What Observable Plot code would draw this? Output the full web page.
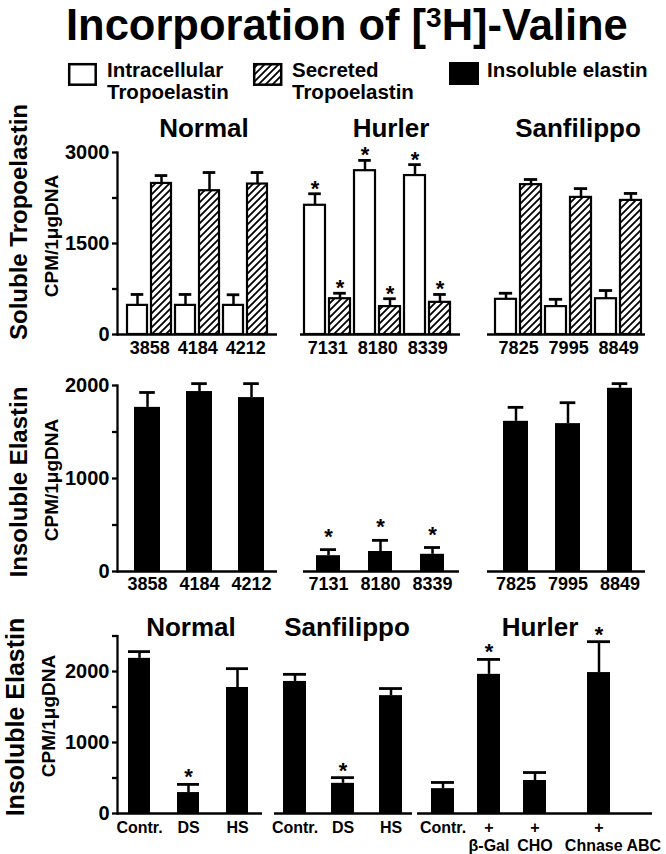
<!DOCTYPE html>
<html><head><meta charset="utf-8">
<script src="https://cdn.jsdelivr.net/npm/d3@7"></script>
<script src="https://cdn.jsdelivr.net/npm/@observablehq/plot@0.6"></script>
<style>
html,body{margin:0;padding:0;background:#fff;overflow:hidden}
#chart{position:relative;width:666px;height:854px;overflow:hidden;font-family:"Liberation Sans",Arial,Helvetica,sans-serif;}
#chart svg{position:absolute;left:0;}
</style></head><body><div id="chart"></div>
<script>
// ---------- DATA (CPM / 1 µg DNA) ----------
const samplesNormal = ["3858", "4184", "4212"];
const samplesHurler = ["7131", "8180", "8339"];
const samplesSanfilippo = ["7825", "7995", "8849"];

// Soluble tropoelastin: intracellular (open) and secreted (hatched), mean and mean+SE
const intraNormal = [480, 480, 480];
const intraNormalErr = [660, 660, 655];
const secNormal = [2490, 2370, 2480];
const secNormalErr = [2620, 2670, 2670];
const intraHurler = [2130, 2700, 2620];
const intraHurlerErr = [2320, 2870, 2800];
const secHurler = [590, 460, 530];
const secHurlerErr = [680, 590, 660];
const intraSanfilippo = [580, 460, 590];
const intraSanfilippoErr = [680, 580, 725];
const secSanfilippo = [2470, 2260, 2210];
const secSanfilippoErr = [2555, 2405, 2325];
const starSolubleNormal = [false, false, false];
const starSolubleHurler = [true, true, true];
const starSolubleSanfilippo = [false, false, false];

// Insoluble elastin by cell line
const insolNormal = [1765, 1935, 1870];
const insolNormalErr = [1925, 2020, 2020];
const insolHurler = [170, 215, 185];
const insolHurlerErr = [235, 335, 258];
const insolSanfilippo = [1615, 1590, 1970];
const insolSanfilippoErr = [1765, 1815, 2020];
const starInsolNormal = [false, false, false];
const starInsolHurler = [true, true, true];
const starInsolSanfilippo = [false, false, false];

// Insoluble elastin with treatments
const treatNormal = ["Contr.", "DS", "HS"];
const treatNormalVal = [2185, 295, 1775];
const treatNormalErr = [2280, 410, 2040];
const starTreatNormal = [false, true, false];
const treatSanfilippo = ["Contr.", "DS", "HS"];
const treatSanfilippoVal = [1860, 425, 1660];
const treatSanfilippoErr = [1960, 505, 1760];
const starTreatSanfilippo = [false, true, false];
const treatHurlerA = ["Contr.", "+\nβ-Gal", "+\nCHO"];
const treatHurlerAVal = [350, 1960, 465];
const treatHurlerAErr = [437, 2170, 577];
const starTreatHurlerA = [false, true, false];
const treatHurlerB = ["+\nChnase ABC"];
const treatHurlerBVal = [1985];
const treatHurlerBErr = [2420];
const starTreatHurlerB = [true];

// axis ticks
const yTicksSoluble = [0, 1500, 3000];
const yMinorSoluble = [750, 2250];
const yTicksInsol = [0, 1000, 2000];
const yMinorInsol = [500, 1500];
const yTicksTreat = [0, 1000, 2000];
const yMinorTreat = [500, 1500, 2500];

// ---------- LAYOUT ----------
const FONT = '"Liberation Sans", Arial, Helvetica, sans-serif';
const W = 666;
const chart = document.getElementById("chart");

const rowSoluble = {top: 122, height: 252, mt: 30, mb: 40, domain: [0, 3000], ticks: yTicksSoluble, minor: yMinorSoluble, labelPad: 7, labelSize: 18, starDy: 2, capW: 13};
const rowInsol = {top: 355, height: 256, mt: 30, mb: 40, domain: [0, 2000], ticks: yTicksInsol, minor: yMinorInsol, labelPad: 6, labelSize: 18, starDy: -6, capW: 16};
const rowTreat = {top: 605, height: 249, mt: 30.5, mb: 41, domain: [0, 2500], ticks: yTicksTreat, minor: yMinorTreat, labelPad: 8, labelSize: 16, starDy: 0, capW: null};

function pairRows(samples, intra, intraErr, sec, secErr, stars) {
  return samples.flatMap((s, i) => [
    {key: s + "|i", value: intra[i], err: intraErr[i], kind: "open", star: stars[i]},
    {key: s + "|s", value: sec[i], err: secErr[i], kind: "hatch", star: stars[i]}
  ]);
}
function singleRows(keys, vals, errs, stars) {
  return keys.map((k, i) => ({key: k, value: vals[i], err: errs[i], kind: "solid", star: stars[i]}));
}

function group({rows, labels, labelKey, frame, band, pi, align = 0.5, row, yAxis, line2Dx = 0}) {
  const keys = rows.map(d => d.key);
  const n = keys.length;
  const step = (band[1] - band[0]) / (n - pi);
  const bw = step * (1 - pi);
  const capInset = row.capW == null ? 0 : Math.max(0, (bw - row.capW) / 2);
  const paired = labelKey !== undefined;
  const lx = paired ? labelKey : d => d;
  const ldx = paired ? step / 2 : 0;
  const lineH = 1.13;
  const marks = [
    Plot.barY(rows.filter(d => d.kind === "open"), {x: "key", y: "value", fill: "white", stroke: "black", strokeWidth: 2.2}),
    Plot.barY(rows.filter(d => d.kind === "hatch"), {x: "key", y: "value", fill: "url(#hatch)", stroke: "black", strokeWidth: 2.2}),
    Plot.barY(rows.filter(d => d.kind === "solid"), {x: "key", y: "value", fill: "black"}),
    Plot.ruleX(rows, {x: "key", y1: "value", y2: "err", stroke: "black", strokeWidth: 2.5}),
    Plot.tickY(rows, {x: "key", y: "err", stroke: "black", strokeWidth: 2.8, insetLeft: capInset, insetRight: capInset}),
    Plot.text(rows.filter(d => d.star), {x: "key", y: "err", text: () => "*", fontSize: 22, fontWeight: "bold", lineAnchor: "bottom", dy: row.starDy, fill: "black"}),
    Plot.ruleY([0], {stroke: "black", strokeWidth: 2.3}),
    Plot.text(labels, {x: lx, text: d => d.split("\n")[0], frameAnchor: "bottom", lineAnchor: "top", dy: row.labelPad, dx: ldx, fontSize: row.labelSize, fontWeight: "bold", fill: "black"}),
    Plot.text(labels.filter(d => d.includes("\n")), {x: lx, text: d => d.split("\n")[1], frameAnchor: "bottom", lineAnchor: "top", dy: row.labelPad + row.labelSize * lineH, dx: ldx + line2Dx, fontSize: row.labelSize, fontWeight: "bold", fill: "black"})
  ];
  if (yAxis) {
    marks.push(
      Plot.frame({anchor: "left", stroke: "black", strokeWidth: 2.3}),
      Plot.axisY(row.minor, {tickSize: 5, tickFormat: () => "", strokeWidth: 2.3, label: null}),
      Plot.axisY(row.ticks, {tickSize: 5, tickPadding: 3, tickFormat: d => String(d), fontSize: 20, fontWeight: "bold", strokeWidth: 2.3, label: null})
    );
  }
  const svg = Plot.plot({
    width: W, height: row.height,
    marginLeft: frame[0], marginRight: W - frame[1], marginTop: row.mt, marginBottom: row.mb,
    x: {type: "band", domain: keys, range: band, paddingInner: pi, paddingOuter: 0, align, axis: null, label: null},
    y: {domain: row.domain, axis: null, label: null},
    style: {background: "transparent", overflow: "visible", fontFamily: FONT, fontWeight: "bold", color: "black"},
    marks
  });
  svg.style.top = row.top + "px";
  chart.appendChild(svg);
}

// overlay text, legend and pattern
chart.insertAdjacentHTML("beforeend", `
<svg width="666" height="854" style="top:0" font-family="Liberation Sans, Arial, Helvetica, sans-serif" font-weight="bold" fill="black">
<defs>
 <pattern id="hatch" patternUnits="userSpaceOnUse" width="7" height="7">
  <rect width="7" height="7" fill="white"/>
  <path d="M-1,1 l2,-2 M0,7 l7,-7 M6,8 l2,-2" stroke="black" stroke-width="1.8"/>
 </pattern>
</defs>
<text x="66" y="39.5" font-size="43.5">Incorporation of <tspan>[</tspan><tspan font-size="28" dy="-13">3</tspan><tspan dy="13">H]-Valine</tspan></text>
<rect x="69.2" y="64.2" width="26.5" height="20.5" fill="white" stroke="black" stroke-width="2.5"/>
<text x="107" y="77" font-size="20.5">Intracellular</text>
<text x="107" y="99" font-size="20.5">Tropoelastin</text>
<rect x="254.2" y="64.2" width="27" height="20.5" fill="url(#hatch)" stroke="black" stroke-width="2.5"/>
<text x="292" y="77" font-size="20.5">Secreted</text>
<text x="292" y="99" font-size="20.5">Tropoelastin</text>
<rect x="449" y="62" width="30" height="23" fill="black"/>
<text x="487" y="77" font-size="20.5">Insoluble elastin</text>
<g font-size="26" text-anchor="middle">
 <text x="204" y="137">Normal</text>
 <text x="391" y="137">Hurler</text>
 <text x="578" y="137">Sanfilippo</text>
 <text x="191" y="636">Normal</text>
 <text x="347" y="636">Sanfilippo</text>
 <text x="540" y="636">Hurler</text>
</g>
<g text-anchor="middle" dominant-baseline="central">
 <text font-size="24" transform="translate(18,222) rotate(-90)">Soluble Tropoelastin</text>
 <text font-size="19" transform="translate(51,236) rotate(-90)">CPM/1μgDNA</text>
 <text font-size="24" transform="translate(18,482) rotate(-90)">Insoluble Elastin</text>
 <text font-size="19" transform="translate(51,480) rotate(-90)">CPM/1μgDNA</text>
 <text font-size="25" transform="translate(15,717) rotate(-90)">Insoluble Elastin</text>
 <text font-size="19" transform="translate(48,716) rotate(-90)">CPM/1μgDNA</text>
</g>
</svg>`);

// Row 1: soluble tropoelastin
group({rows: pairRows(samplesNormal, intraNormal, intraNormalErr, secNormal, secNormalErr, starSolubleNormal),
  labels: samplesNormal, labelKey: d => d + "|i", frame: [117, 277], band: [126, 268], pi: 0.16, row: rowSoluble, yAxis: true});
group({rows: pairRows(samplesHurler, intraHurler, intraHurlerErr, secHurler, secHurlerErr, starSolubleHurler),
  labels: samplesHurler, labelKey: d => d + "|i", frame: [300, 460], band: [302, 452], pi: 0.167, row: rowSoluble});
group({rows: pairRows(samplesSanfilippo, intraSanfilippo, intraSanfilippoErr, secSanfilippo, secSanfilippoErr, starSolubleSanfilippo),
  labels: samplesSanfilippo, labelKey: d => d + "|i", frame: [487, 645], band: [494, 641], pi: 0.18, row: rowSoluble});

// Row 2: insoluble elastin
group({rows: singleRows(samplesNormal, insolNormal, insolNormalErr, starInsolNormal),
  labels: samplesNormal, frame: [117, 277], band: [133, 265], pi: 0.5, row: rowInsol, yAxis: true});
group({rows: singleRows(samplesHurler, insolHurler, insolHurlerErr, starInsolHurler),
  labels: samplesHurler, frame: [303, 459], band: [316, 444], pi: 0.54, row: rowInsol});
group({rows: singleRows(samplesSanfilippo, insolSanfilippo, insolSanfilippoErr, starInsolSanfilippo),
  labels: samplesSanfilippo, frame: [487, 645], band: [502, 633], pi: 0.52, row: rowInsol});

// Row 3: treatments
group({rows: singleRows(treatNormal, treatNormalVal, treatNormalErr, starTreatNormal),
  labels: treatNormal, frame: [117, 262], band: [128, 249], pi: 0.543, row: rowTreat, yAxis: true});
group({rows: singleRows(treatSanfilippo, treatSanfilippoVal, treatSanfilippoErr, starTreatSanfilippo),
  labels: treatSanfilippo, frame: [274, 412], band: [283, 403], pi: 0.513, row: rowTreat});
group({rows: singleRows(treatHurlerA, treatHurlerAVal, treatHurlerAErr, starTreatHurlerA),
  labels: treatHurlerA, frame: [417, 565], band: [430, 547], pi: 0.51, row: rowTreat});
group({rows: singleRows(treatHurlerB, treatHurlerBVal, treatHurlerBErr, starTreatHurlerB),
  labels: treatHurlerB, frame: [565, 652], band: [587, 610], pi: 0, row: rowTreat, line2Dx: 14});
</script></body></html>
